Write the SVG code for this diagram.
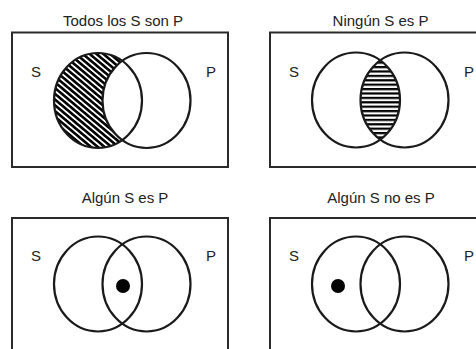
<svg xmlns="http://www.w3.org/2000/svg" width="476" height="349" viewBox="0 0 476 349">
<style>
.frame{fill:none;stroke:#2a2a2a;stroke-width:2}
.c{fill:none;stroke:#1a1a1a;stroke-width:2.2}
.t{font-family:"Liberation Sans",Arial,sans-serif;font-size:15px;fill:#222;text-anchor:middle}
.l{font-family:"Liberation Sans",Arial,sans-serif;font-size:15px;fill:#222}
</style>
<defs>
<pattern id="diag" patternUnits="userSpaceOnUse" width="4.4" height="4.4" patternTransform="rotate(40)">
<rect width="4.4" height="4.4" fill="#fff"/>
<rect y="0" width="4.4" height="2.6" fill="#000"/>
</pattern>
<pattern id="horiz" patternUnits="userSpaceOnUse" width="10" height="4.4">
<rect width="10" height="4.4" fill="#fff"/>
<rect y="0" width="10" height="2.2" fill="#000"/>
</pattern>
<clipPath id="lensClip"><ellipse cx="404.5" cy="100" rx="44" ry="47.5"/></clipPath>
</defs>
<rect width="476" height="349" fill="#fff"/>

<g id="todos">
<text class="t" x="123" y="26">Todos los S son P</text>
<rect class="frame" x="12" y="32.5" width="216" height="134.5"/>
<ellipse cx="98" cy="100.5" rx="44" ry="47.5" fill="url(#diag)"/>
<ellipse cx="146.5" cy="100.5" rx="44" ry="47.5" fill="#fff"/>
<ellipse class="c" cx="98" cy="100.5" rx="44" ry="47.5"/>
<ellipse class="c" cx="146.5" cy="100.5" rx="44" ry="47.5"/>
<text class="l" x="31" y="77">S</text>
<text class="l" x="206" y="77">P</text>
</g>

<g id="ningun">
<text class="t" x="380.5" y="26">Ningún S es P</text>
<rect class="frame" x="270" y="32.5" width="230" height="134.5"/>
<ellipse cx="356" cy="100" rx="44" ry="47.5" fill="url(#horiz)" clip-path="url(#lensClip)"/>
<ellipse class="c" cx="356" cy="100" rx="44" ry="47.5"/>
<ellipse class="c" cx="404.5" cy="100" rx="44" ry="47.5"/>
<text class="l" x="289" y="77">S</text>
<text class="l" x="464" y="77">P</text>
</g>

<g id="algun">
<text class="t" x="125" y="203">Algún S es P</text>
<rect class="frame" x="12" y="218" width="216" height="150"/>
<ellipse class="c" cx="98" cy="284" rx="44" ry="47.5"/>
<ellipse class="c" cx="146.5" cy="284" rx="44" ry="47.5"/>
<circle cx="123" cy="286" r="7" fill="#000"/>
<text class="l" x="31" y="261">S</text>
<text class="l" x="206" y="261">P</text>
</g>

<g id="algun-no">
<text class="t" x="381" y="203">Algún S no es P</text>
<rect class="frame" x="270" y="218" width="230" height="150"/>
<ellipse class="c" cx="356" cy="284" rx="44" ry="47.5"/>
<ellipse class="c" cx="404.5" cy="284" rx="44" ry="47.5"/>
<circle cx="338" cy="286" r="7" fill="#000"/>
<text class="l" x="289" y="261">S</text>
<text class="l" x="464" y="261">P</text>
</g>
</svg>
